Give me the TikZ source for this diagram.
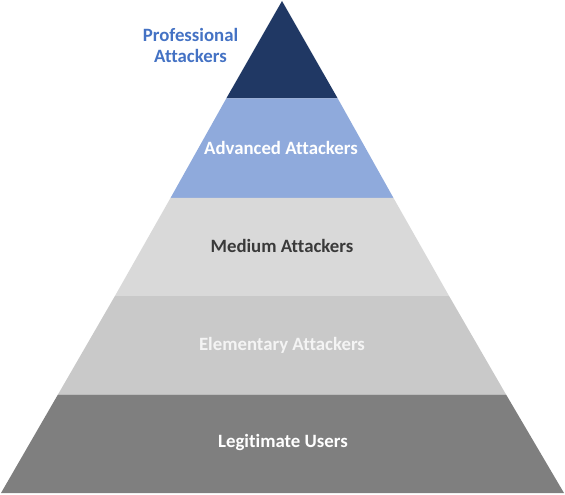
\documentclass[tikz,border=0pt]{standalone}
\usepackage{fontspec}
\setmainfont[Ligatures={NoCommon}]{Carlito}
\definecolor{navy}{HTML}{203864}
\definecolor{lblue}{HTML}{8FAADC}
\definecolor{gA}{HTML}{D9D9D9}
\definecolor{gB}{HTML}{C9C9C9}
\definecolor{gC}{HTML}{7F7F7F}
\definecolor{tblue}{HTML}{4472C4}
\definecolor{tdark}{HTML}{3A3A3A}
\definecolor{tlight}{HTML}{F4F4F4}
\begin{document}
\begin{tikzpicture}[x=1pt,y=-1pt,
  lbl/.style={font=\bfseries\fontsize{18.8}{21}\selectfont, inner sep=0pt}]
\useasboundingbox (0,0) rectangle (565,495);
% layer corner coordinates (apex at 282,1; base 1..564 at y=493)
\coordinate (apex) at (282,1);
\coordinate (l1) at (226.3,98.4);  \coordinate (r1) at (337.7,98.4);
\coordinate (l2) at (170.6,197.8); \coordinate (r2) at (393.4,197.8);
\coordinate (l3) at (114.8,296.2); \coordinate (r3) at (449.2,296.2);
\coordinate (l4) at (57.9,394.6);  \coordinate (r4) at (506.1,394.6);
\coordinate (l5) at (1,493);       \coordinate (r5) at (564,493);
\fill[navy] (apex) -- (r1) -- (l1) -- cycle;
\fill[lblue] (l1) -- (r1) -- (r2) -- (l2) -- cycle;
\fill[gA] (l2) -- (r2) -- (r3) -- (l3) -- cycle;
\fill[gB] (l3) -- (r3) -- (r4) -- (l4) -- cycle;
\fill[gC] (l4) -- (r4) -- (r5) -- (l5) -- cycle;
\node[lbl, text=tblue, align=center] (prof) at (190.5,45.5) {Professional\\Attackers};
\node[lbl, text=white] (adv) at (281,148) {Advanced Attackers};
\node[lbl, text=tdark] (med) at (282,246) {Medium Attackers};
\node[lbl, text=tlight] (elem) at (282,345) {Elementary Attackers};
\node[lbl, text=white] (legit) at (283,442) {Legitimate Users};
\end{tikzpicture}
\end{document}
